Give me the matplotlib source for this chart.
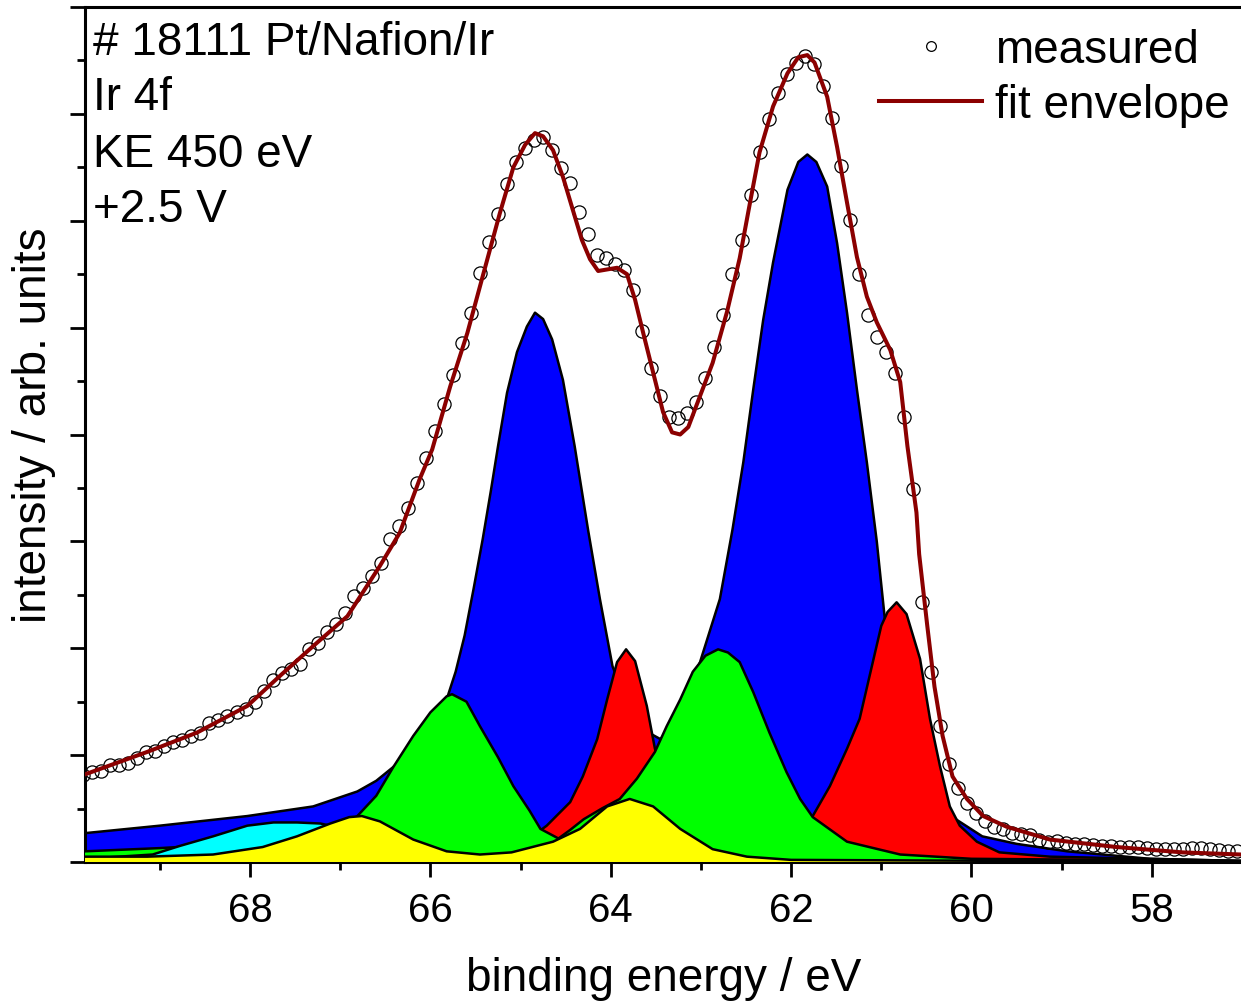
import numpy as np
import matplotlib
matplotlib.use("Agg")
import matplotlib.pyplot as plt
from matplotlib.lines import Line2D

plt.rcParams['font.family'] = ['Liberation Sans', 'DejaVu Sans']

# measured spectrum, 0.1 eV steps starting at 69.85 eV
meas = [0.81, 0.84, 0.85, 0.91, 0.91, 0.93, 0.97, 1.03, 1.04, 1.09,
        1.12, 1.14, 1.18, 1.21, 1.30, 1.33, 1.37, 1.40, 1.43, 1.50,
        1.60, 1.70, 1.77, 1.81, 1.85, 1.99, 2.05, 2.15, 2.23, 2.33,
        2.49, 2.56, 2.68, 2.80, 3.02, 3.14, 3.31, 3.55, 3.78, 4.03,
        4.29, 4.56, 4.86, 5.14, 5.51, 5.80, 6.06, 6.34, 6.55, 6.68,
        6.76, 6.78, 6.66, 6.49, 6.35, 6.08, 5.88, 5.68, 5.65, 5.60,
        5.54, 5.35, 4.97, 4.62, 4.36, 4.16, 4.15, 4.20, 4.30, 4.53,
        4.82, 5.12, 5.50, 5.82, 6.24, 6.64, 6.95, 7.20, 7.37, 7.48,
        7.54, 7.47, 7.26, 6.96, 6.51, 6.01, 5.50, 5.12, 4.91, 4.77,
        4.58, 4.16, 3.49, 2.43, 1.78, 1.27, 0.92, 0.69, 0.55, 0.46,
        0.38, 0.33, 0.31, 0.27, 0.26, 0.25, 0.21, 0.19, 0.20, 0.18,
        0.17, 0.17, 0.16, 0.15, 0.15, 0.14, 0.14, 0.14, 0.13, 0.12,
        0.12, 0.12, 0.12, 0.13, 0.13, 0.12, 0.11, 0.10, 0.10]
meas_be = np.round(69.85 - 0.1 * np.arange(len(meas)), 2)

# fit envelope
env_be = [69.83, 69.14, 68.59, 68.03, 67.67, 67.30, 66.92, 66.56, 66.34, 66.12,
          65.98, 65.78, 65.59, 65.42, 65.23, 65.08, 64.95, 64.84, 64.75, 64.64,
          64.53, 64.42, 64.32, 64.23, 64.14, 63.93, 63.82, 63.73, 63.64, 63.53,
          63.42, 63.32, 63.23, 63.14, 63.01, 62.87, 62.71, 62.57, 62.46, 62.35,
          62.20, 62.04, 61.92, 61.82, 61.74, 61.60, 61.49, 61.38, 61.27, 61.16,
          61.05, 60.90, 60.79, 60.71, 60.61, 60.58, 60.49, 60.41, 60.32, 60.21,
          60.05, 59.87, 59.61, 59.13, 58.39, 57.66, 57.01]
env = [0.82, 1.03, 1.21, 1.46, 1.74, 2.02, 2.30, 2.77, 3.08, 3.58,
       3.86, 4.45, 4.95, 5.48, 6.07, 6.50, 6.71, 6.82, 6.79, 6.66,
       6.41, 6.10, 5.82, 5.64, 5.53, 5.56, 5.50, 5.26, 4.95, 4.58,
       4.21, 4.02, 4.00, 4.07, 4.36, 4.67, 5.15, 5.65, 6.15, 6.64,
       7.07, 7.38, 7.53, 7.55, 7.48, 7.16, 6.69, 6.17, 5.66, 5.29,
       5.05, 4.79, 4.49, 3.89, 3.27, 2.88, 2.21, 1.64, 1.18, 0.80,
       0.59, 0.43, 0.33, 0.21, 0.14, 0.09, 0.07]

# fit components (Ir 4f doublets)
blue_be = [69.83, 69.0, 68.03, 67.30, 66.81, 66.60, 66.41, 66.20, 66.00, 65.82,
           65.72, 65.62, 65.52, 65.42, 65.33, 65.25, 65.15, 65.04, 64.93, 64.84,
           64.75, 64.65, 64.53, 64.40, 64.25, 64.12, 63.98, 63.80, 63.60, 63.45,
           63.38, 63.23, 63.01, 62.79, 62.65, 62.53, 62.42, 62.31, 62.20, 62.04,
           61.92, 61.82, 61.72, 61.60, 61.49, 61.38, 61.27, 61.16, 61.05, 60.96,
           60.80, 60.60, 60.40, 60.21, 59.88, 59.50, 58.94, 58.02, 57.00]
blue = [0.27, 0.34, 0.43, 0.52, 0.66, 0.76, 0.89, 1.05, 1.26, 1.52,
        1.78, 2.12, 2.56, 3.02, 3.47, 3.89, 4.39, 4.77, 5.01, 5.14,
        5.08, 4.89, 4.51, 3.89, 3.10, 2.46, 1.83, 1.45, 1.22, 1.15,
        1.21, 1.43, 1.87, 2.46, 3.11, 3.74, 4.42, 5.07, 5.61, 6.29,
        6.55, 6.62, 6.55, 6.32, 5.79, 5.14, 4.42, 3.74, 3.00, 2.27,
        1.50, 0.90, 0.60, 0.42, 0.24, 0.17, 0.10, 0.03, 0.01]

red_be = [69.83, 66.00, 65.20, 64.90, 64.71, 64.45, 64.31, 64.15, 64.04, 63.93,
          63.83, 63.73, 63.60, 63.51, 63.35, 63.15, 62.90, 62.50, 62.00, 61.76,
          61.57, 61.38, 61.24, 61.13, 61.00, 60.93, 60.83, 60.72, 60.57, 60.46,
          60.35, 60.24, 60.13, 59.94, 59.69, 59.13, 57.00]
red = [0.02, 0.04, 0.12, 0.22, 0.34, 0.56, 0.80, 1.15, 1.52, 1.87,
       1.99, 1.88, 1.46, 1.06, 0.65, 0.40, 0.25, 0.20, 0.30, 0.43,
       0.71, 1.06, 1.34, 1.74, 2.21, 2.34, 2.43, 2.32, 1.90, 1.34,
       0.90, 0.52, 0.34, 0.19, 0.09, 0.05, 0.01]

green_be = [69.83, 69.0, 68.0, 67.5, 67.0, 66.81, 66.60, 66.41, 66.19, 66.00,
            65.82, 65.76, 65.60, 65.45, 65.25, 65.08, 64.90, 64.78, 64.58, 64.45,
            64.30, 64.10, 63.90, 63.71, 63.51, 63.38, 63.23, 63.09, 62.95, 62.81,
            62.70, 62.57, 62.42, 62.24, 62.05, 61.90, 61.76, 61.38, 60.79, 60.00,
            57.00]
green = [0.10, 0.13, 0.18, 0.23, 0.33, 0.43, 0.62, 0.89, 1.18, 1.40,
         1.55, 1.57, 1.50, 1.27, 0.98, 0.71, 0.48, 0.31, 0.22, 0.30,
         0.40, 0.50, 0.59, 0.78, 1.03, 1.27, 1.52, 1.78, 1.93, 1.99,
         1.96, 1.87, 1.59, 1.21, 0.84, 0.59, 0.42, 0.19, 0.07, 0.03,
         0.01]

cyan_be = [69.83, 69.08, 68.78, 68.41, 68.03, 67.74, 67.48, 67.22, 67.11, 66.80,
           66.50, 66.00, 65.00, 63.00, 57.00]
cyan = [0.03, 0.07, 0.15, 0.24, 0.34, 0.37, 0.37, 0.36, 0.34, 0.25,
        0.15, 0.07, 0.03, 0.01, 0.00]

yellow_be = [69.83, 69.14, 68.41, 67.86, 67.48, 67.11, 66.90, 66.76, 66.56, 66.19,
             65.82, 65.45, 65.10, 64.64, 64.34, 64.04, 63.79, 63.53, 63.23, 62.87,
             62.49, 62.00, 57.00]
yellow = [0.05, 0.05, 0.07, 0.14, 0.24, 0.36, 0.42, 0.43, 0.38, 0.21,
          0.10, 0.07, 0.09, 0.19, 0.31, 0.52, 0.59, 0.52, 0.31, 0.12,
          0.05, 0.02, 0.00]

components = [(blue_be, blue, '#0000FF'),
              (red_be, red, '#FF0000'),
              (green_be, green, '#00FF00'),
              (cyan_be, cyan, '#00FFFF'),
              (yellow_be, yellow, '#FFFF00')]

W, H = 1241, 1004
fig = plt.figure(figsize=(W / 100, H / 100), dpi=100)
ax = fig.add_axes([85 / W, 141 / H, 1157 / W, 855 / H])

z = 2
for be, val, col in components:
    ax.fill_between(be, 0, val, facecolor=col, edgecolor='none', zorder=z)
    ax.plot(be, val, color='black', lw=1.8, zorder=z + 0.5)
    z += 1

ax.plot(meas_be, meas, 'o', ms=9.5, mfc='none', mec='black', mew=0.9,
        zorder=10, label='measured')
ax.plot(env_be, env, color='#8B0000', lw=2.9, zorder=11, label='fit envelope')

ax.set_xlim(69.83, 57.0)
ax.set_ylim(0, 8)
ax.set_xticks([68, 66, 64, 62, 60, 58])
ax.set_xticks([69, 67, 65, 63, 61, 59, 57], minor=True)
ax.set_yticks(np.arange(0, 9, 1))
ax.set_yticks(np.arange(0.5, 8, 1), minor=True)
ax.set_yticklabels([])

ax.tick_params(axis='both', which='major', direction='out', length=11,
               width=2.0, labelsize=29, pad=10)
ax.tick_params(axis='both', which='minor', direction='out', length=5.5,
               width=2.0)
ax.tick_params(top=False, right=False)
for s in ['left', 'bottom', 'top']:
    ax.spines[s].set_linewidth(2.2)
ax.spines['right'].set_visible(False)

ax.set_xlabel('binding energy / eV', fontsize=33, labelpad=19)
ax.set_ylabel('intensity / arb. units', fontsize=33, labelpad=0)
ax.yaxis.label.set_y(0.512)

info = ['# 18111 Pt/Nafion/Ir', 'Ir 4f', 'KE 450 eV', '+2.5 V']
baselines = [55, 110, 167, 222]
for t, b in zip(info, baselines):
    fig.text(93 / W, 1 - b / H, t, fontsize=33, ha='left', va='baseline')

handles = [Line2D([], [], ls='none', marker='o', ms=7, mfc='none', mec='black', mew=0.9),
           Line2D([], [], color='#8B0000', lw=2.9)]
ax.legend(handles, ['measured', 'fit envelope'], loc='upper right',
          bbox_to_anchor=(1230 / W, 1 - 29 / H), bbox_transform=fig.transFigure,
          frameon=False, fontsize=33, handlelength=2.23, handletextpad=0.3,
          labelspacing=0.23, borderpad=0, borderaxespad=0)

fig.savefig('out.png', dpi=100)
